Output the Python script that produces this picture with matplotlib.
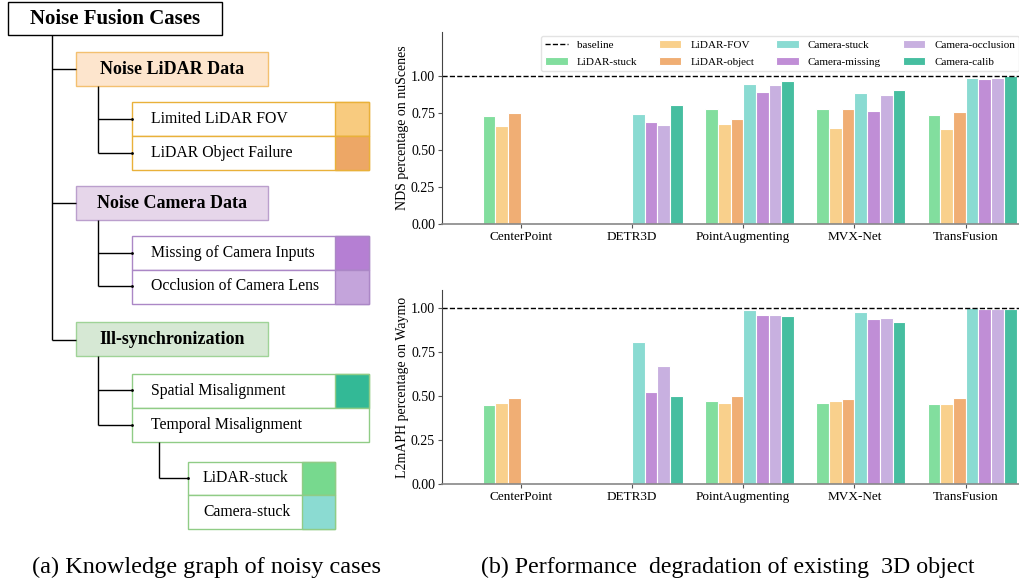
import numpy as np
import matplotlib
matplotlib.use("Agg")
import matplotlib.pyplot as plt
from matplotlib.patches import Rectangle
from matplotlib.lines import Line2D

plt.rcParams['font.family'] = ['Liberation Serif', 'DejaVu Serif']

# detectors on the x axis
models = ['CenterPoint', 'DETR3D', 'PointAugmenting', 'MVX-Net', 'TransFusion']
series = ['LiDAR-stuck', 'LiDAR-FOV', 'LiDAR-object', 'Camera-stuck',
          'Camera-missing', 'Camera-occlusion', 'Camera-calib']
colors = ['#82de9e', '#f9d08c', '#f0ae74', '#8adbd2', '#c08ed6', '#c8b0e0', '#46bea0']

nan = np.nan
# NDS relative to the clean baseline (nuScenes)
nds_lidar_stuck = [0.73, nan, 0.78, 0.778, 0.735]
nds_lidar_fov = [0.663, nan, 0.68, 0.653, 0.646]
nds_lidar_object = [0.748, nan, 0.71, 0.775, 0.758]
nds_camera_stuck = [nan, 0.743, 0.949, 0.888, 0.99]
nds_camera_missing = [nan, 0.69, 0.895, 0.765, 0.983]
nds_camera_occlusion = [nan, 0.668, 0.94, 0.873, 0.986]
nds_camera_calib = [nan, 0.808, 0.968, 0.906, 1.0]

# L2 mAPH relative to the clean baseline (Waymo)
aph_lidar_stuck = [0.447, nan, 0.472, 0.461, 0.453]
aph_lidar_fov = [0.459, nan, 0.461, 0.472, 0.453]
aph_lidar_object = [0.487, nan, 0.498, 0.482, 0.49]
aph_camera_stuck = [nan, 0.803, 0.986, 0.975, 1.0]
aph_camera_missing = [nan, 0.524, 0.958, 0.933, 0.99]
aph_camera_occlusion = [nan, 0.671, 0.958, 0.944, 0.992]
aph_camera_calib = [nan, 0.499, 0.95, 0.918, 0.995]

nds_values = [nds_lidar_stuck, nds_lidar_fov, nds_lidar_object, nds_camera_stuck,
              nds_camera_missing, nds_camera_occlusion, nds_camera_calib]
aph_values = [aph_lidar_stuck, aph_lidar_fov, aph_lidar_object, aph_camera_stuck,
              aph_camera_missing, aph_camera_occlusion, aph_camera_calib]

fig = plt.figure(figsize=(10.2, 5.83), dpi=100)

# ---------------- knowledge graph (pixel coordinates) ----------------
dax = fig.add_axes([0, 0, 1, 1])
dax.set_xlim(0, 1020)
dax.set_ylim(583, 0)
dax.axis('off')


def box(x0, y0, x1, y1, fc, ec, lw=1.0):
    dax.add_patch(Rectangle((x0, y0), x1 - x0, y1 - y0, facecolor=fc, edgecolor=ec, lw=lw))


def line(xs, ys):
    dax.plot(xs, ys, color='black', lw=1.0, solid_capstyle='butt')


def branch(x_trunk, y_top, ys, x_end):
    line([x_trunk, x_trunk], [y_top, ys[-1]])
    for y in ys:
        line([x_trunk, x_end], [y, y])
        dax.plot(x_end, y, marker='.', ms=2, color='black')


def leaf(x0, y0, x1, y1, text, ec, swatch=None, sw_x=None, tx=None):
    box(x0, y0, x1, y1, 'white', ec)
    if swatch is not None:
        box(sw_x, y0, x1, y1, swatch, ec)
    dax.text(tx, (y0 + y1) / 2, text, fontsize=11.3, ha='left', va='center')


# root
box(8, 2, 222, 35, 'white', 'black')
dax.text(115, 19, 'Noise Fusion Cases', fontsize=15, fontweight='bold', ha='center', va='center')
line([52, 52], [35, 339.5])
for y in [69, 202.5, 339.5]:
    line([52, 76], [y, y])

# noise lidar
box(76, 52, 268, 86, '#fde5cd', '#f3c070')
dax.text(172, 69, 'Noise LiDAR Data', fontsize=13, fontweight='bold', ha='center', va='center')
branch(98.5, 86, [118.5, 152.5], 132.5)
leaf(132.5, 102, 369, 136, 'Limited LiDAR FOV', '#e9b13a', '#f8cb7f', 335, 151)
leaf(132.5, 136, 369, 169.5, 'LiDAR Object Failure', '#e9b13a', '#eda766', 335, 151)

# noise camera
box(76, 186, 268, 219.5, '#e6d6ea', '#bb9fcd')
dax.text(172, 203, 'Noise Camera Data', fontsize=13, fontweight='bold', ha='center', va='center')
branch(98.5, 219.5, [252.5, 286], 132.5)
leaf(132.5, 236, 369, 269.5, 'Missing of Camera Inputs', '#ab87c6', '#b57fd3', 335, 151)
leaf(132.5, 269.5, 369, 303.5, 'Occlusion of Camera Lens', '#ab87c6', '#c4a4db', 335, 151)

# ill-synchronization
box(76, 322, 268, 355.5, '#d6e8d4', '#9fd397')
dax.text(172, 339, 'Ill-synchronization', fontsize=13, fontweight='bold', ha='center', va='center')
branch(98.5, 355.5, [390, 424.5], 132.5)
leaf(132.5, 374, 369, 408, 'Spatial Misalignment', '#90cc86', '#33b996', 335, 151)
leaf(132.5, 408, 369, 441.5, 'Temporal Misalignment', '#90cc86', None, None, 151)
branch(159, 441.5, [478], 188.5)
leaf(188.5, 462, 335, 495, 'LiDAR-stuck', '#90cc86', '#77d98e', 302, 203)
leaf(188.5, 495, 335, 528.5, 'Camera-stuck', '#90cc86', '#8bdbd2', 302, 203)

fig.text(206.7 / 1020, 1 - 567 / 583, '(a) Knowledge graph of noisy cases',
         fontsize=17.5, ha='center', va='center')
fig.text(728 / 1020, 1 - 567 / 583, '(b) Performance  degradation of existing  3D object',
         fontsize=17.2, ha='center', va='center')

# ---------------- bar charts ----------------
w = 0.114
x = np.arange(len(models))
left = 442 / 1020
width = 603 / 1020
ax_top = fig.add_axes([left, 1 - 224.3 / 583, width, 192.6 / 583])
ax_bot = fig.add_axes([left, 1 - 484.3 / 583, width, 194.3 / 583])


def draw_bars(ax, values, ymax, ylabel):
    bars = []
    for j, (vals, c) in enumerate(zip(values, colors)):
        b = ax.bar(x + (j - 3) * w, vals, width=w, align='edge', color=c,
                   edgecolor='white', linewidth=0.8, label=series[j])
        bars.append(b)
    base = ax.axhline(1.0, color='black', ls='--', lw=1.0)
    ax.set_xlim(-0.7065, 4.712)
    ax.set_ylim(0, ymax)
    ax.set_xticks(x)
    ax.set_xticklabels(models, fontsize=9.5)
    ax.set_yticks([0, 0.25, 0.5, 0.75, 1.0])
    ax.set_yticklabels(['0.00', '0.25', '0.50', '0.75', '1.00'], fontsize=10)
    ax.set_ylabel(ylabel, fontsize=10, labelpad=1.5)
    ax.tick_params(axis='x', length=3, pad=1.5, color='#555555')
    ax.tick_params(axis='y', length=3, pad=2, color='#555555')
    for s in ['top', 'right']:
        ax.spines[s].set_visible(False)
    ax.spines['left'].set_color('#444444')
    ax.spines['left'].set_linewidth(0.8)
    ax.spines['bottom'].set_color('#888888')
    ax.spines['bottom'].set_linewidth(1.2)
    return base, bars


base, bars = draw_bars(ax_top, nds_values, 1.3, 'NDS percentage on nuScenes')
draw_bars(ax_bot, aph_values, 1.1, 'L2mAPH percentage on Waymo')

base_handle = Line2D([], [], color='black', ls='--', lw=1.0)
leg = ax_top.legend([base_handle] + bars, ['baseline'] + series, ncol=4, fontsize=8,
                    loc='upper left', bbox_to_anchor=(541 / 1020, 1 - 36 / 583),
                    bbox_transform=fig.transFigure, borderaxespad=0,
                    frameon=True, edgecolor='#dddddd', labelspacing=0.6)

fig.savefig('out.png', dpi=100)
